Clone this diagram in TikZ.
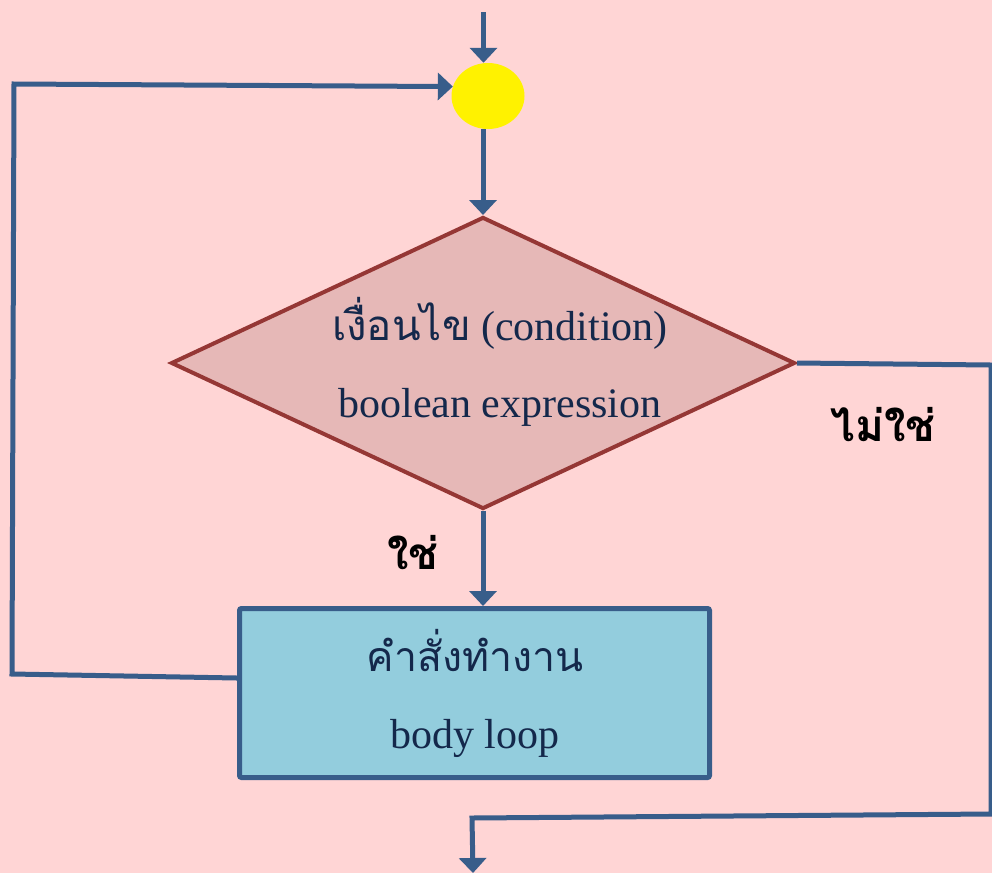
\documentclass[tikz,border=0pt]{standalone}
\usepackage{fontspec}
\setmainfont{Liberation Serif}
\newfontfamily\thai[Script=Thai]{Loma}
\usetikzlibrary{arrows.meta,shapes.geometric}
\definecolor{bg}{HTML}{FFD5D5}
\definecolor{lineblue}{HTML}{385D8A}
\definecolor{dfill}{HTML}{E6B8B7}
\definecolor{dborder}{HTML}{953735}
\definecolor{bfill}{HTML}{93CDDD}
\definecolor{txt}{HTML}{14284B}
\begin{document}
\begin{tikzpicture}[x=1pt,y=-1pt,
  flow/.style={draw=lineblue, line width=5pt, -{Triangle[width=27pt,length=15pt]}},
  plain/.style={draw=lineblue, line width=5pt},
  bigtext/.style={font=\fontsize{42}{77}\selectfont, text=txt, align=center},
  answer/.style={font=\thai\bfseries\fontsize{44}{50}\selectfont, text=black}]
\fill[bg] (0,0) rectangle (992,873);
\useasboundingbox (0,0) rectangle (992,873);

\node[ellipse, fill=yellow, minimum width=73pt, minimum height=66pt, inner sep=0pt] (c) at (488,96) {};
\node[diamond, fill=dfill, draw=dborder, line width=4pt, minimum width=624pt, minimum height=292pt, inner sep=0pt] (d) at (483,363) {};
\node[bigtext] (dt) at (500,362) {{\thai เงื่อนไข} (condition)\\boolean expression};
\node[rectangle, rounded corners=2pt, fill=bfill, draw=lineblue, line width=5pt, minimum width=470pt, minimum height=169pt, inner sep=0pt] (b) at (474.5,693) {};
\node[bigtext] (bt) at (475,693) {{\thai\fontsize{41}{77}\selectfont คำสั่งทำงาน}\\body loop};

\node[answer] (yes) at (413,553) {ใช่};
\node[answer] (no) at (883,425) {ไม่ใช่};

\coordinate (top) at (483.5,12);
\coordinate (exit) at (473,873);

\draw[flow] (top) -- (top |- c.north);
\draw[flow] (d.north |- c.south) -- (d.north);
\draw[flow] (d.south) -- (d.south |- b.north);
\draw[flow] ([yshift=15pt]b.west) -- (12,674) -- (14,84) -- (c.165);
\draw[flow] (d.east) -- (991,365) -- (991,814) -- (472,818) -- (exit);
\end{tikzpicture}
\end{document}
